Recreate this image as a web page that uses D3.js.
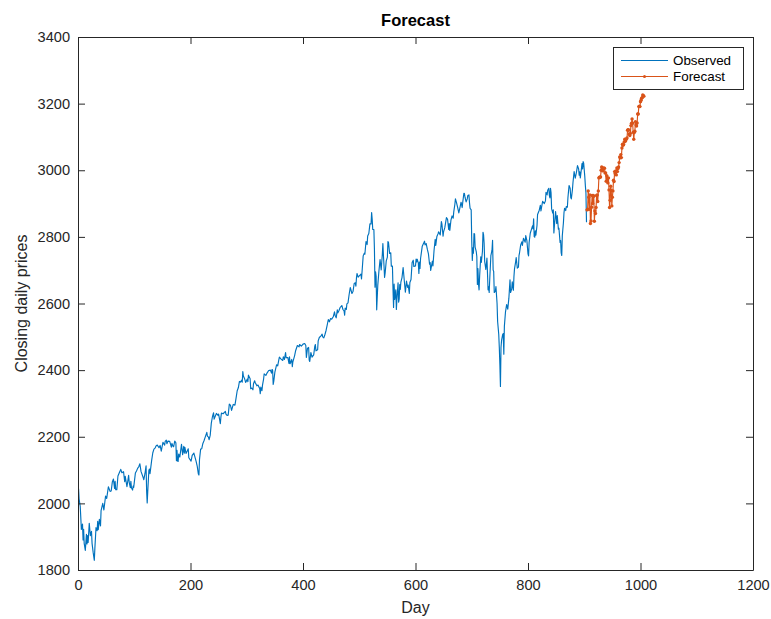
<!DOCTYPE html>
<html><head><meta charset="utf-8">
<script src="https://cdn.jsdelivr.net/npm/d3@7/dist/d3.min.js"></script>
<style>
body{margin:0;background:#fff;}
svg{display:block;font-family:"Liberation Sans",Arial,Helvetica,sans-serif;}
</style>
</head><body>
<svg id="chart" width="771" height="619"></svg>
<script>
// ---------- data ----------
const chartTitle = "Forecast";
const xLabel = "Day";
const yLabel = "Closing daily prices";
const seriesNames = ["Observed", "Forecast"];
const xTicks = [0, 200, 400, 600, 800, 1000, 1200];
const yTicks = [1800, 2000, 2200, 2400, 2600, 2800, 3000, 3200, 3400];

// observed closing prices: [day, price]
const observed = [
[1,2044],[2,2013],[4,1990],[6,1922],[8,1938],[9,1890],[10,1922],[11,1880],[13,1859],[15,1907],[16,1878],[17,1903],[18,1883],[20,1940],[22,1903],[24,1916],[25,1880],[27,1852],[29,1829],[30,1865],[32,1927],[34,1918],[35,1946],[36,1921],[38,1952],[40,1932],[41,1978],[44,2000],[46,1980],[49,2022],[51,2015],[54,2050],[57,2036],[59,2037],[61,2064],[63,2073],[65,2045],[66,2066],[67,2041],[69,2041],[71,2082],[74,2094],[76,2102],[78,2092],[81,2095],[83,2065],[84,2081],[87,2050],[90,2084],[91,2064],[93,2047],[94,2066],[95,2047],[97,2040],[98,2052],[99,2048],
[102,2091],[104,2097],[106,2105],[108,2110],[110,2119],[112,2096],[116,2077],[117,2071],[119,2089],[121,2113],[122,2037],[123,2001],[124,2036],[126,2099],[127,2103],[128,2089],[131,2130],[133,2152],[135,2163],[137,2166],[139,2173],[141,2175],[144,2167],[146,2174],[148,2157],[151,2183],[154,2175],[155,2186],[157,2190],[158,2179],[160,2187],[163,2186],[166,2169],[167,2180],[169,2171],[170,2170],[172,2187],[174,2182],[175,2128],[176,2159],[177,2127],[178,2126],[179,2148],[181,2139],[184,2177],[186,2146],[188,2171],[189,2151],[190,2168],[192,2150],[196,2164],[197,2137],
[201,2127],[203,2144],[206,2151],[210,2126],[212,2111],[214,2088],[215,2085],[216,2132],[218,2163],[220,2164],[222,2180],[224,2188],[226,2198],[229,2213],[230,2202],[232,2199],[233,2191],[235,2204],[237,2241],[239,2260],[241,2272],[242,2253],[246,2270],[249,2264],[250,2268],[252,2249],[253,2239],[254,2258],[255,2271],[258,2269],[262,2276],[263,2268],[265,2264],[267,2265],[269,2298],[271,2295],[273,2279],[276,2297],[279,2295],[281,2316],[283,2338],[285,2347],[287,2366],[289,2364],[291,2370],[292,2364],[293,2396],[294,2382],[296,2375],[298,2363],
[301,2373],[302,2365],[303,2385],[306,2374],[307,2344],[309,2346],[311,2341],[312,2359],[314,2368],[315,2363],[318,2353],[320,2355],[323,2345],[324,2329],[325,2349],[327,2338],[328,2355],[330,2374],[331,2389],[334,2384],[336,2391],[339,2399],[342,2400],[344,2391],[345,2402],[346,2400],[347,2357],[348,2366],[350,2394],[353,2416],[355,2413],[357,2431],[358,2439],[361,2433],[364,2429],[365,2440],[367,2432],[369,2453],[370,2437],[373,2438],[375,2420],[376,2440],[377,2419],[378,2423],[380,2432],[381,2410],[382,2425],[385,2443],[387,2459],[390,2474],[393,2470],[394,2477],[397,2472],[399,2476],
[400,2478],[403,2480],[405,2474],[406,2438],[408,2466],[410,2468],[411,2430],[412,2426],[414,2453],[416,2439],[419,2446],[421,2472],[422,2477],[423,2458],[426,2461],[427,2488],[429,2498],[432,2503],[434,2508],[435,2500],[437,2497],[439,2507],[441,2519],[443,2535],[445,2552],[447,2545],[449,2555],[451,2553],[454,2561],[456,2575],[457,2565],[459,2557],[461,2581],[462,2572],[464,2579],[466,2588],[469,2594],[471,2582],[473,2578],[474,2565],[475,2586],[477,2582],[478,2599],[480,2602],[482,2627],[484,2648],[485,2642],[487,2630],[489,2637],[491,2660],[493,2662],[494,2652],[495,2676],[496,2690],[498,2679],
[500,2683],[503,2688],[504,2674],[505,2696],[507,2743],[509,2751],[510,2748],[512,2786],[514,2777],[515,2803],[517,2810],[519,2839],[521,2839],[522,2873],[523,2853],[524,2822],[526,2822],[527,2762],[528,2649],[529,2695],[530,2682],[531,2581],[532,2620],[533,2656],[535,2698],[537,2732],[538,2716],[539,2701],[541,2747],[542,2780],[543,2744],[544,2714],[545,2678],[546,2691],[548,2728],[550,2739],[551,2786],[552,2783],[554,2750],[556,2752],[557,2712],[559,2712],[560,2643],[561,2588],[562,2658],[563,2612],[565,2641],[566,2582],[567,2614],[569,2662],[570,2604],[571,2613],[572,2657],[573,2642],[574,2664],[576,2678],[578,2708],[580,2670],[582,2634],[584,2667],[586,2648],[587,2655],[589,2630],[590,2663],[592,2672],[594,2723],[596,2730],[597,2711],
[600,2713],[601,2733],[602,2725],[603,2733],[605,2721],[606,2690],[607,2724],[608,2705],[609,2735],[612,2772],[614,2779],[616,2787],[617,2776],[619,2780],[621,2763],[623,2749],[625,2718],[626,2723],[627,2699],[629,2718],[630,2727],[631,2713],[633,2760],[635,2793],[636,2774],[638,2801],[640,2809],[641,2815],[644,2806],[646,2846],[647,2838],[649,2802],[650,2816],[652,2827],[655,2858],[657,2853],[659,2822],[660,2840],[661,2819],[663,2850],[665,2863],[667,2856],[668,2875],[670,2898],[671,2914],[673,2902],[675,2888],[677,2872],[679,2888],[681,2904],[683,2888],[684,2904],[686,2931],[687,2930],[688,2919],[690,2905],[692,2914],[693,2924],[695,2926],[696,2902],[697,2886],[699,2881],
[700,2786],[701,2729],[702,2767],[703,2751],[704,2810],[705,2809],[706,2769],[708,2756],[709,2741],[710,2657],[711,2705],[712,2659],[713,2641],[714,2682],[715,2712],[716,2740],[717,2723],[719,2756],[720,2814],[721,2806],[722,2781],[723,2726],[725,2702],[727,2736],[728,2690],[729,2641],[730,2650],[731,2633],[732,2674],[734,2744],[736,2760],[737,2790],[738,2701],[739,2696],[740,2633],[742,2637],[743,2651],[745,2600],[746,2546],[748,2507],[749,2467],[750,2417],[751,2351],[752,2468],[753,2489],[755,2507],[756,2510],[757,2448],[758,2532],[760,2575],[762,2597],[764,2583],[766,2616],[768,2671],[769,2633],[771,2643],[772,2665],[774,2640],[775,2681],[776,2704],[778,2725],[779,2738],[781,2706],[783,2709],[784,2744],[785,2753],[787,2776],[789,2785],[790,2774],[792,2796],[795,2784],[796,2804],[798,2789],
[800,2749],[801,2743],[802,2783],[804,2811],[806,2822],[808,2833],[809,2824],[810,2854],[811,2801],[812,2799],[813,2818],[814,2805],[816,2834],[817,2867],[820,2880],[822,2895],[823,2878],[826,2907],[829,2900],[831,2908],[832,2934],[834,2926],[835,2940],[837,2946],[838,2924],[839,2917],[840,2946],[841,2932],[842,2884],[844,2871],[845,2881],[846,2812],[847,2834],[849,2876],[851,2840],[852,2864],[854,2823],[855,2826],[857,2783],[858,2789],[859,2752],[860,2744],[861,2804],[863,2843],[864,2873],[865,2886],[867,2879],[868,2891],[870,2889],[871,2918],[873,2954],[875,2945],[876,2918],[877,2914],[879,2942],[880,2964],[882,2996],[884,2976],[886,2993],[888,3014],[890,3004],[891,2985],[892,2995],[893,2977],[895,3005],[896,3020],[897,3004],[898,3026],[899,3021],[901,2980],[902,2953],[903,2932],[904,2844]
];

// forecast values, one per day starting at forecastStartDay
const forecastStartDay = 905;
const forecastValues = [
2881,2883,2938,2919,2883,2926,2840,2848,2889,2924,2900,2924,2922,2847,2878,2870,2888,2924,2926,
2906,2938,2977,2979,2979,2980,3000,3010,3007,2998,3006,3006,3006,2992,2992,2967,2984,2977,2962,2977,
2941,2888,2910,2952,2939,2893,2919,2938,2970,2966,2996,2990,2998,2986,3007,2996,3005,3010,3023,3040,3037,3047,3038,
3067,3078,3075,3077,3085,3093,3087,3092,3094,3097,3120,3122,3121,3108,3104,3110,3134,3141,3154,3141,
3114,3093,3113,3117,3146,3136,3133,3142,3169,3169,3191,3192,3191,3206,3210,3216,3218,3226,3224,3222
];

// ---------- drawing ----------
const colors = ["#0072BD", "#D95319"];
const axisColor = "#262626";
const svg = d3.select("#chart");
const L = 78, R = 753, T = 37, B = 570;

const x = d3.scaleLinear().domain([0, 1200]).range([L, R]);
const y = d3.scaleLinear().domain([1800, 3400]).range([B, T]);

const forecast = forecastValues.map((v, i) => [forecastStartDay + i, v]);

svg.append("rect").attr("x", L).attr("y", T).attr("width", R - L).attr("height", B - T).attr("fill", "#fff");

const line = d3.line().x(d => x(d[0])).y(d => y(d[1]));

svg.append("path").datum(observed).attr("d", line)
  .attr("fill", "none").attr("stroke", colors[0]).attr("stroke-width", 1.15).attr("stroke-linejoin", "round");

svg.append("path").datum(forecast).attr("d", line)
  .attr("fill", "none").attr("stroke", colors[1]).attr("stroke-width", 1.15).attr("stroke-linejoin", "round");
svg.append("g").selectAll("circle").data(forecast).join("circle")
  .attr("cx", d => x(d[0])).attr("cy", d => y(d[1])).attr("r", 1.7).attr("fill", colors[1]);

const tickLen = 7;
function styleAxis(g) {
  g.selectAll(".domain").attr("stroke", axisColor);
  g.selectAll(".tick line").attr("stroke", axisColor);
  g.selectAll(".tick text").attr("fill", axisColor).style("font-size", "14.6px").attr("font-family", null);
  g.attr("font-family", null);
}
svg.append("g").attr("transform", `translate(0,${B})`)
  .call(d3.axisBottom(x).tickValues(xTicks).tickSizeInner(-tickLen).tickSizeOuter(0).tickPadding(10).tickFormat(d3.format("d")))
  .call(styleAxis);
svg.append("g").attr("transform", `translate(0,${T})`)
  .call(d3.axisTop(x).tickValues(xTicks).tickSizeInner(-tickLen).tickSizeOuter(0).tickFormat(""))
  .call(styleAxis);
svg.append("g").attr("transform", `translate(${L},0)`)
  .call(d3.axisLeft(y).tickValues(yTicks).tickSizeInner(-tickLen).tickSizeOuter(0).tickPadding(8).tickFormat(d3.format("d")))
  .call(styleAxis);
svg.append("g").attr("transform", `translate(${R},0)`)
  .call(d3.axisRight(y).tickValues(yTicks).tickSizeInner(-tickLen).tickSizeOuter(0).tickFormat(""))
  .call(styleAxis);

svg.append("text").attr("x", (L + R) / 2).attr("y", 26).attr("text-anchor", "middle")
  .style("font-size", "16.5px").style("font-weight", "bold").attr("fill", "#000").text(chartTitle);
svg.append("text").attr("x", (L + R) / 2).attr("y", 613).attr("text-anchor", "middle")
  .style("font-size", "16px").attr("fill", axisColor).text(xLabel);
svg.append("text").attr("transform", `translate(27,${(T + B) / 2}) rotate(-90)`).attr("text-anchor", "middle")
  .style("font-size", "16px").attr("fill", axisColor).text(yLabel);

// legend
const lg = svg.append("g");
lg.append("rect").attr("x", 613.5).attr("y", 47.5).attr("width", 130).attr("height", 42)
  .attr("fill", "#fff").attr("stroke", axisColor).attr("stroke-width", 1);
const rowsY = [60.5, 76.5];
seriesNames.forEach((name, i) => {
  lg.append("line").attr("x1", 621).attr("x2", 668).attr("y1", rowsY[i]).attr("y2", rowsY[i])
    .attr("stroke", colors[i]).attr("stroke-width", 1);
  if (i === 1) lg.append("circle").attr("cx", 644.5).attr("cy", rowsY[i]).attr("r", 1.5).attr("fill", colors[i]);
  lg.append("text").attr("x", 673).attr("y", rowsY[i] + 4.8).style("font-size", "13.4px").attr("fill", "#000").text(name);
});
</script>
</body></html>
